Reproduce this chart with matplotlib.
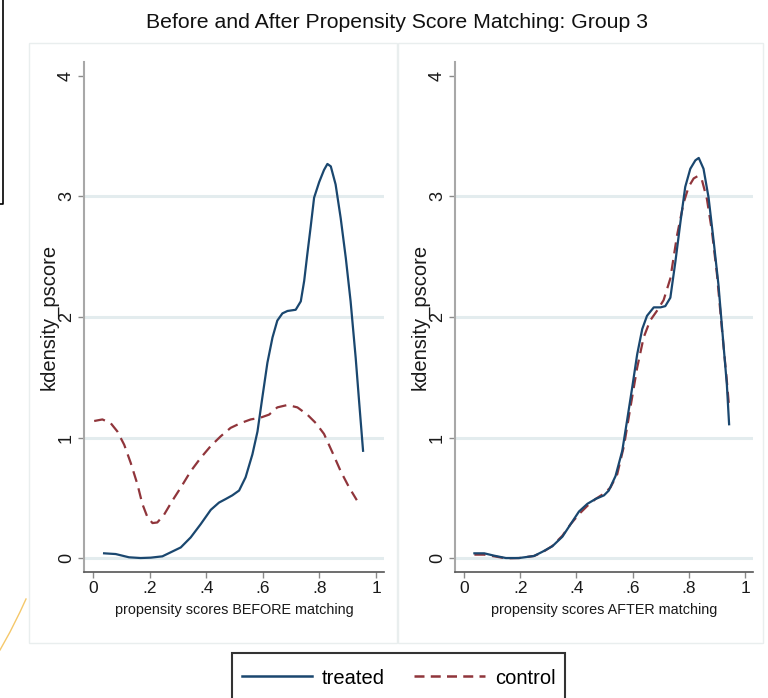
import matplotlib.pyplot as plt
from matplotlib.patches import Rectangle
from matplotlib.lines import Line2D

plt.rcParams['font.family'] = ['Liberation Sans', 'DejaVu Sans']

# kdensity curves (pscore, density)
before_treated_x = [0.039, 0.080, 0.127, 0.168, 0.204, 0.245, 0.274, 0.31, 0.345, 0.38, 0.416, 0.445,
                    0.469, 0.492, 0.516, 0.539, 0.563, 0.581, 0.598, 0.616, 0.634, 0.651, 0.669, 0.687,
                    0.716, 0.734, 0.746, 0.757, 0.769, 0.781, 0.799, 0.816, 0.828, 0.84, 0.857, 0.875,
                    0.893, 0.91, 0.928, 0.94, 0.954]
before_treated_y = [0.039, 0.033, 0.006, 0.0, 0.003, 0.014, 0.047, 0.088, 0.171, 0.28, 0.40, 0.46,
                    0.49, 0.52, 0.56, 0.67, 0.86, 1.05, 1.33, 1.62, 1.83, 1.97, 2.03, 2.05,
                    2.06, 2.13, 2.30, 2.52, 2.75, 2.99, 3.12, 3.22, 3.27, 3.25, 3.10, 2.82,
                    2.49, 2.13, 1.66, 1.30, 0.89]
before_control_x = [0.004, 0.033, 0.062, 0.086, 0.11, 0.133, 0.157, 0.174, 0.192, 0.21, 0.227, 0.251,
                    0.28, 0.31, 0.345, 0.38, 0.416, 0.451, 0.486, 0.522, 0.557, 0.592, 0.622, 0.651,
                    0.687, 0.722, 0.757, 0.787, 0.816, 0.846, 0.875, 0.905, 0.932]
before_control_y = [1.137, 1.15, 1.12, 1.05, 0.94, 0.79, 0.61, 0.45, 0.34, 0.29, 0.295, 0.36,
                    0.475, 0.585, 0.72, 0.83, 0.93, 1.01, 1.08, 1.12, 1.15, 1.165, 1.19, 1.25,
                    1.27, 1.25, 1.19, 1.12, 1.03, 0.875, 0.72, 0.585, 0.48]

after_treated_x = [0.037, 0.072, 0.108, 0.149, 0.196, 0.249, 0.279, 0.314, 0.35, 0.379, 0.409, 0.439,
                   0.468, 0.498, 0.515, 0.539, 0.563, 0.58, 0.598, 0.616, 0.634, 0.651, 0.675, 0.699,
                   0.716, 0.734, 0.752, 0.77, 0.787, 0.805, 0.823, 0.835, 0.852, 0.87, 0.888, 0.905,
                   0.923, 0.935, 0.943]
after_treated_y = [0.039, 0.039, 0.019, 0.0, 0.0, 0.017, 0.052, 0.097, 0.177, 0.28, 0.386, 0.45,
                   0.49, 0.52, 0.56, 0.68, 0.89, 1.14, 1.41, 1.69, 1.90, 2.01, 2.08, 2.08,
                   2.09, 2.16, 2.46, 2.79, 3.08, 3.23, 3.30, 3.32, 3.23, 2.99, 2.63, 2.27,
                   1.77, 1.44, 1.11]
after_control_x = [0.037, 0.072, 0.108, 0.149, 0.196, 0.249, 0.279, 0.314, 0.35, 0.379, 0.409, 0.439,
                   0.468, 0.498, 0.521, 0.545, 0.569, 0.592, 0.616, 0.639, 0.662, 0.686, 0.71, 0.734,
                   0.758, 0.781, 0.799, 0.817, 0.832, 0.846, 0.864, 0.882, 0.9, 0.917, 0.935, 0.943]
after_control_y = [0.028, 0.028, 0.014, -0.003, 0.0, 0.017, 0.047, 0.10, 0.185, 0.28, 0.364, 0.433,
                   0.49, 0.535, 0.585, 0.695, 0.93, 1.25, 1.58, 1.83, 1.97, 2.05, 2.14, 2.32,
                   2.68, 2.945, 3.08, 3.15, 3.17, 3.14, 2.98, 2.71, 2.35, 1.91, 1.47, 1.25]

x_ticks = [0, 0.2, 0.4, 0.6, 0.8, 1]
x_ticklabels = ["0", ".2", ".4", ".6", ".8", "1"]
y_ticks = [0, 1, 2, 3, 4]
grid_y = [0, 1, 2, 3]

NAVY = "#1a476f"
MAROON = "#90353b"
GRID = "#e3ecee"
W, H = 768, 698

fig = plt.figure(figsize=(7.68, 6.98), dpi=100)


def px(x0, y0, x1, y1):
    return [x0 / W, 1 - y1 / H, (x1 - x0) / W, (y1 - y0) / H]


# light outer panels
for x0, x1 in [(29, 397), (398, 763)]:
    fig.add_artist(Rectangle((x0 / W, 1 - 643 / H), (x1 - x0) / W, (643 - 43) / H,
                             transform=fig.transFigure, fill=False, ec="#e9eeee", lw=1))

panels = [
    (px(84, 62, 384, 572), before_treated_x, before_treated_y, before_control_x, before_control_y,
     "propensity scores BEFORE matching"),
    (px(455, 62, 753, 572), after_treated_x, after_treated_y, after_control_x, after_control_y,
     "propensity scores AFTER matching"),
]

for rect, tx, ty, cx, cy, xlab in panels:
    ax = fig.add_axes(rect)
    for g in grid_y:
        ax.axhline(g, color=GRID, lw=2.2, zorder=0)
    ax.plot(cx, cy, color=MAROON, lw=1.6, dashes=(5, 3))
    ax.plot(tx, ty, color=NAVY, lw=1.6)
    ax.set_xlim(-0.032, 1.028)
    ax.set_ylim(-0.116, 4.116)
    ax.set_xticks(x_ticks)
    ax.set_xticklabels(x_ticklabels)
    ax.set_yticks(y_ticks)
    ax.spines["top"].set_visible(False)
    ax.spines["right"].set_visible(False)
    ax.spines["left"].set_color("#a8a8a8")
    ax.spines["left"].set_linewidth(1.5)
    ax.spines["bottom"].set_color("#555555")
    ax.spines["bottom"].set_linewidth(1.2)
    ax.tick_params(direction="out", length=4.5, width=1, color="#8a8a8a",
                   labelcolor="#1a1a1a")
    ax.tick_params(axis="x", labelsize=12.5, pad=2)
    ax.tick_params(axis="y", labelsize=13, labelrotation=90, pad=2)
    for lab in ax.get_yticklabels():
        lab.set_va("center")
    ax.set_xlabel(xlab, fontsize=10.4, color="#1a1a1a", labelpad=5)
    ax.set_ylabel("kdensity_pscore", fontsize=14.5, color="#1a1a1a")
    ax.yaxis.set_label_coords(-0.085, 0.5)

fig.text(397.5 / W, 1 - 23 / H, "Before and After Propensity Score Matching: Group 3",
         ha="center", va="center", fontsize=15.3, color="#111111")

# legend box runs past the bottom edge, as in the screenshot
fig.add_artist(Rectangle((232 / W, -0.02), (565 - 232) / W, 0.02 + 1 - 653 / H,
                         transform=fig.transFigure, fill=False, ec="#333333", lw=1.5))
handles = [Line2D([], [], color=NAVY, lw=1.8),
           Line2D([], [], color=MAROON, lw=1.8, dashes=(4, 2.5))]
fig.legend(handles, ["treated", "control"], loc="center",
           bbox_to_anchor=(398.5 / W, 1 - 678 / H), ncol=2, fontsize=14.5,
           frameon=False, handlelength=3.5, handletextpad=0.5, columnspacing=1.45,
           borderpad=0, borderaxespad=0)

# stray screenshot edges
fig.add_artist(Line2D([2.5 / W, 2.5 / W, 0], [1, 1 - 204 / H, 1 - 204 / H],
                      transform=fig.transFigure, color="black", lw=1.2))
fig.add_artist(Line2D([0, 10 / W, 20 / W, 26 / W], [1 - 650 / H, 1 - 632 / H, 1 - 612 / H, 1 - 599 / H],
                      transform=fig.transFigure, color="#f5c86a", lw=1))

fig.savefig("out.png", dpi=100)
